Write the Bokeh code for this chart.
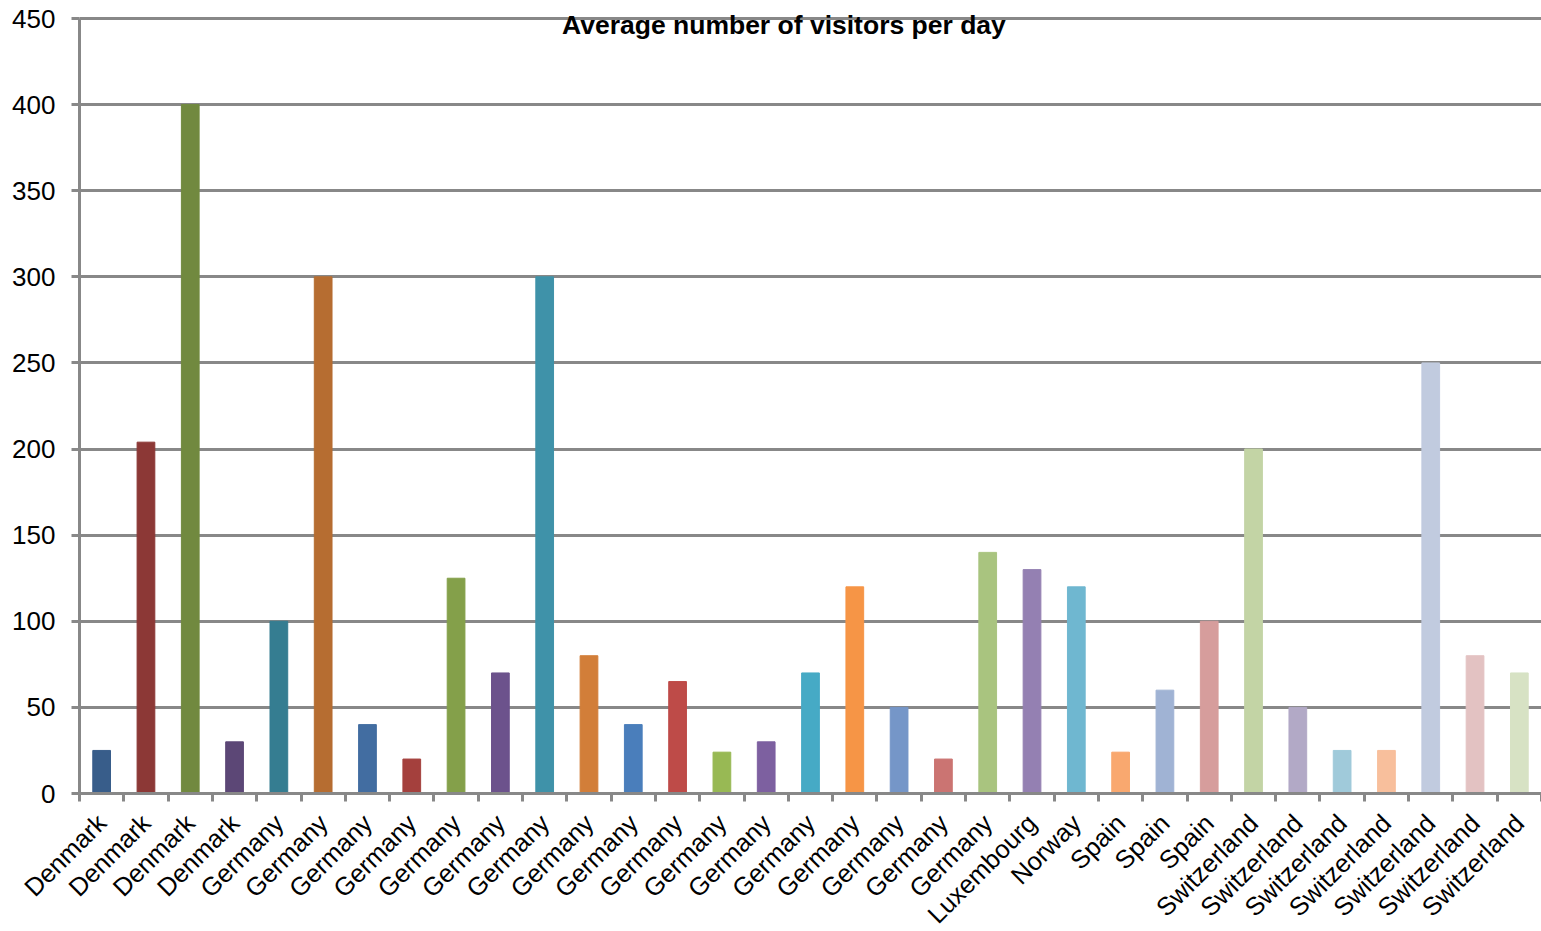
import numpy as np
from bokeh.plotting import figure
from bokeh.models import ColumnDataSource, FixedTicker, Label, Range1d
from bokeh.embed import file_html
from bokeh.resources import INLINE

# ---- data ----
countries = ["Denmark"] * 4 + ["Germany"] * 17 + ["Luxembourg", "Norway"] + ["Spain"] * 3 + ["Switzerland"] * 7
visitors = [25, 204, 400, 30,
            100, 300, 40, 20, 125, 70, 300, 80, 40, 65, 24, 30, 70, 120, 50, 20, 140,
            130, 120,
            24, 60, 100,
            200, 50, 25, 25, 250, 80, 70]
colors = ["#385D8A", "#8C3836", "#71893F", "#5C4776", "#357D91", "#B66D31",
          "#426DA1", "#A4403D", "#84A04A", "#6C528C", "#3F92A9", "#D27E39",
          "#4A7EBB", "#BE4B48", "#98B954", "#7D60A0", "#46AAC5", "#F69546",
          "#7596C8", "#CB7472", "#A9C47F", "#9480B2", "#6FB7D0", "#F9A86F",
          "#A0B3D4", "#D69D9C", "#C3D4A5", "#B2A9C6", "#A0CADA", "#F8BF9C",
          "#C1CBDF", "#E3C2C2", "#D7E2C4"]
y_ticks = [0, 50, 100, 150, 200, 250, 300, 350, 400, 450]
y_max = 450
title_text = "Average number of visitors per day"

n = len(countries)
idx = list(range(n))
src = ColumnDataSource(dict(x=idx, top=visitors, color=colors, name=countries))

# ---- layout (pixels) ----
W, H = 1541, 931
LEFT, TOP, BOTTOM = 79, 18, 138           # plot-area margins inside the canvas
px_x = (W - LEFT) / n                      # pixels per category
px_y = (H - TOP - BOTTOM) / y_max          # pixels per value unit
x_lo, x_hi = -0.5, n - 0.5

FONT = "Liberation Sans"
GRID = "#888888"

# the frame covers the whole canvas; axes are pinned in data space
p = figure(width=W, height=H, output_backend="svg", toolbar_location=None,
           x_range=Range1d(x_lo - LEFT / px_x, x_hi),
           y_range=Range1d(-BOTTOM / px_y, y_max + TOP / px_y),
           min_border_left=0, min_border_right=0, min_border_top=0, min_border_bottom=0)
p.outline_line_color = None
p.background_fill_color = "white"
p.border_fill_color = "white"

p.vbar(x="x", top="top", width=0.4, bottom=0, color="color", source=src)

# y axis
p.yaxis.fixed_location = x_lo
p.yaxis.bounds = (0, y_max)
p.yaxis.ticker = FixedTicker(ticks=y_ticks)
p.yaxis.axis_line_color = GRID
p.yaxis.axis_line_width = 3
p.yaxis.major_tick_line_color = GRID
p.yaxis.major_tick_line_width = 3
p.yaxis.major_tick_out = 8
p.yaxis.major_tick_in = 0
p.yaxis.minor_tick_line_color = None
p.yaxis.major_label_text_font = FONT
p.yaxis.major_label_text_font_size = "26px"
p.yaxis.major_label_text_color = "black"
p.yaxis.major_label_standoff = 16

# x axis
p.xaxis.fixed_location = 0
p.xaxis.bounds = (x_lo, x_hi)
p.xaxis.ticker = FixedTicker(ticks=idx, minor_ticks=list(np.arange(n + 1) - 0.5))
p.xaxis.major_label_overrides = {i: c for i, c in enumerate(countries)}
p.xaxis.major_label_orientation = np.pi / 4
p.xaxis.axis_line_color = GRID
p.xaxis.axis_line_width = 3
p.xaxis.major_tick_line_color = None
p.xaxis.major_tick_out = 8
p.xaxis.major_tick_in = 0
p.xaxis.minor_tick_line_color = GRID
p.xaxis.minor_tick_line_width = 3
p.xaxis.minor_tick_out = 8
p.xaxis.minor_tick_in = 0
p.xaxis.major_label_text_font = FONT
p.xaxis.major_label_text_font_size = "25.5px"
p.xaxis.major_label_text_color = "black"
p.xaxis.major_label_standoff = 17

p.xgrid.grid_line_color = None
p.ygrid.ticker = FixedTicker(ticks=y_ticks)
p.ygrid.cross_bounds = (x_lo, x_hi)
p.ygrid.grid_line_color = GRID
p.ygrid.grid_line_width = 3

title = Label(x=15.4, y=446, text=title_text, text_align="center", text_baseline="middle",
              text_font=FONT, text_font_style="bold", text_font_size="26.5px", text_color="black")
p.add_layout(title)

open("out.html", "w").write(file_html(p, INLINE))
